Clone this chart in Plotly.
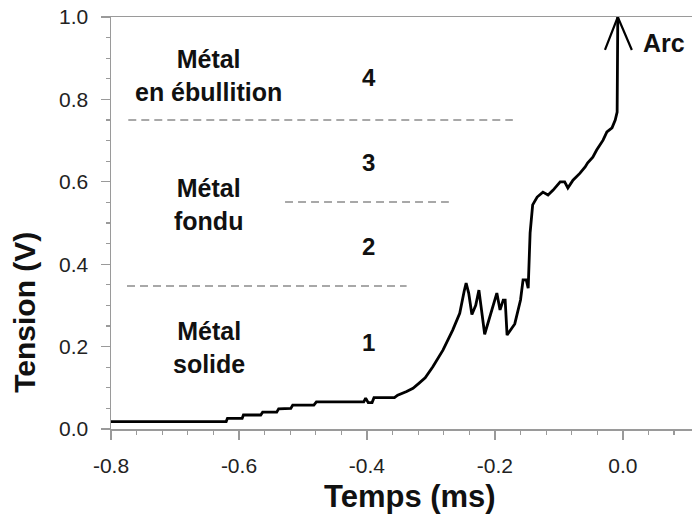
import plotly.graph_objects as go

# ---- data ----
time_ms = [-0.800, -0.620, -0.618, -0.595, -0.593, -0.566, -0.563, -0.541, -0.538, -0.519,
           -0.516, -0.483, -0.479, -0.405, -0.402, -0.398, -0.392, -0.389, -0.357, -0.352,
           -0.338, -0.328, -0.318, -0.309, -0.297, -0.281, -0.266, -0.255, -0.248, -0.245,
           -0.241, -0.236, -0.230, -0.225, -0.216, -0.206, -0.197, -0.192, -0.187, -0.184,
           -0.181, -0.169, -0.160, -0.156, -0.151, -0.148, -0.145, -0.141, -0.134, -0.125,
           -0.117, -0.109, -0.103, -0.098, -0.091, -0.086, -0.078, -0.067, -0.059, -0.055,
           -0.047, -0.041, -0.031, -0.025, -0.017, -0.012, -0.009, -0.008]
tension_v = [0.018, 0.018, 0.026, 0.026, 0.034, 0.034, 0.041, 0.041, 0.049, 0.050,
             0.058, 0.058, 0.066, 0.066, 0.075, 0.064, 0.064, 0.076, 0.076, 0.082,
             0.091, 0.099, 0.112, 0.124, 0.151, 0.192, 0.240, 0.281, 0.335, 0.354,
             0.330, 0.278, 0.300, 0.337, 0.230, 0.280, 0.330, 0.289, 0.313, 0.313,
             0.228, 0.255, 0.313, 0.362, 0.362, 0.342, 0.476, 0.544, 0.563, 0.575,
             0.568, 0.580, 0.590, 0.600, 0.600, 0.585, 0.604, 0.621, 0.636, 0.646,
             0.660, 0.677, 0.701, 0.721, 0.731, 0.750, 0.769, 1.000]

# threshold dashed lines: level, x start, x end
threshold_levels = [0.750, 0.551, 0.347]
threshold_x0 = [-0.773, -0.528, -0.775]
threshold_x1 = [-0.172, -0.272, -0.338]

# region labels
state_labels = ["Métal<br>en ébullition", "Métal<br>fondu", "Métal<br>solide"]
state_x = [-0.647, -0.647, -0.647]
state_y = [0.859, 0.544, 0.199]
zone_numbers = ["4", "3", "2", "1"]
zone_x = [-0.397, -0.397, -0.397, -0.397]
zone_y = [0.854, 0.646, 0.442, 0.209]

# arc arrowhead (open V at top of the final rise)
arrow_x = [-0.028, -0.008, 0.014]
arrow_y = [0.920, 1.000, 0.920]
arc_label = "Arc"
arc_x, arc_y = 0.065, 0.937

x_tickvals = [-0.8, -0.6, -0.4, -0.2, 0.0]
x_ticktext = ["-0.8", "-0.6", "-0.4", "-0.2", "0.0"]
y_tickvals = [0.0, 0.2, 0.4, 0.6, 0.8, 1.0]
y_ticktext = ["0.0", "0.2", "0.4", "0.6", "0.8", "1.0"]

FONT = "Arial, Liberation Sans, sans-serif"
AXIS_GRAY = "#9a9a9a"
DASH_GRAY = "#8c8c8c"

fig = go.Figure()

for lvl, x0, x1 in zip(threshold_levels, threshold_x0, threshold_x1):
    fig.add_trace(go.Scatter(x=[x0, x1], y=[lvl, lvl], mode="lines",
                             line=dict(color=DASH_GRAY, width=1.6, dash="8px,5px"),
                             hoverinfo="skip", showlegend=False))

fig.add_trace(go.Scatter(x=time_ms, y=tension_v, mode="lines",
                         line=dict(color="black", width=2.8),
                         showlegend=False, cliponaxis=False))

fig.add_trace(go.Scatter(x=arrow_x, y=arrow_y, mode="lines",
                         line=dict(color="black", width=2.2),
                         hoverinfo="skip", showlegend=False, cliponaxis=False))

annotations = []
for t, x, y in zip(state_labels, state_x, state_y):
    annotations.append(dict(x=x, y=y, xref="x", yref="y", text=f"<b>{t}</b>",
                            xanchor="center", yanchor="middle",
                            showarrow=False, font=dict(family=FONT, size=25, color="#111")))
for t, x, y in zip(zone_numbers, zone_x, zone_y):
    annotations.append(dict(x=x, y=y, xref="x", yref="y", text=f"<b>{t}</b>",
                            xanchor="center", yanchor="middle",
                            showarrow=False, font=dict(family=FONT, size=24, color="#111")))
annotations.append(dict(x=arc_x, y=arc_y, xref="x", yref="y", text=f"<b>{arc_label}</b>",
                        xanchor="center", yanchor="middle",
                        showarrow=False, font=dict(family=FONT, size=25, color="#111")))
annotations.append(dict(x=-0.333, y=-0.163, xref="x", yref="paper", text="<b>Temps (ms)</b>",
                        xanchor="center", yanchor="middle",
                        showarrow=False, font=dict(family=FONT, size=31, color="#111")))
annotations.append(dict(x=-0.148, y=0.282, xref="paper", yref="paper", text="<b>Tension (V)</b>",
                        xanchor="center", yanchor="middle",
                        textangle=-90, showarrow=False,
                        font=dict(family=FONT, size=30, color="#111")))

fig.update_layout(
    width=692, height=515,
    margin=dict(l=111, r=0, t=17, b=86),
    paper_bgcolor="white", plot_bgcolor="white",
    showlegend=False,
    annotations=annotations,
    font=dict(family=FONT),
)

fig.update_xaxes(range=[-0.8, 0.108], showgrid=False, zeroline=False,
                 showline=True, linecolor=AXIS_GRAY, linewidth=1.5, mirror=True,
                 ticks="outside", ticklen=9, tickwidth=1.3, tickcolor=AXIS_GRAY,
                 tickvals=x_tickvals, ticktext=x_ticktext,
                 tickfont=dict(family=FONT, size=21, color="#222"),
                 ticklabelstandoff=8, ticklabeloverflow="allow",
                 minor=dict(dtick=0.04, ticks="outside", ticklen=4, tickcolor=AXIS_GRAY,
                            tickwidth=1.2, showgrid=False))
fig.update_yaxes(range=[0, 1.0], showgrid=False, zeroline=False,
                 showline=True, linecolor=AXIS_GRAY, linewidth=1.5,
                 ticks="outside", ticklen=9, tickwidth=1.3, tickcolor=AXIS_GRAY,
                 tickvals=y_tickvals, ticktext=y_ticktext,
                 tickfont=dict(family=FONT, size=21, color="#222"),
                 ticklabelstandoff=8, ticklabeloverflow="allow",
                 minor=dict(dtick=0.05, ticks="outside", ticklen=4, tickcolor=AXIS_GRAY,
                            tickwidth=1.2, showgrid=False))

# remove the default 8px page margin so the figure fills the 692x515 window exactly
fig.write_html("out.html",
               config={"displayModeBar": False, "staticPlot": True},
               post_script="document.body.style.margin='0';document.body.style.overflow='hidden';")
